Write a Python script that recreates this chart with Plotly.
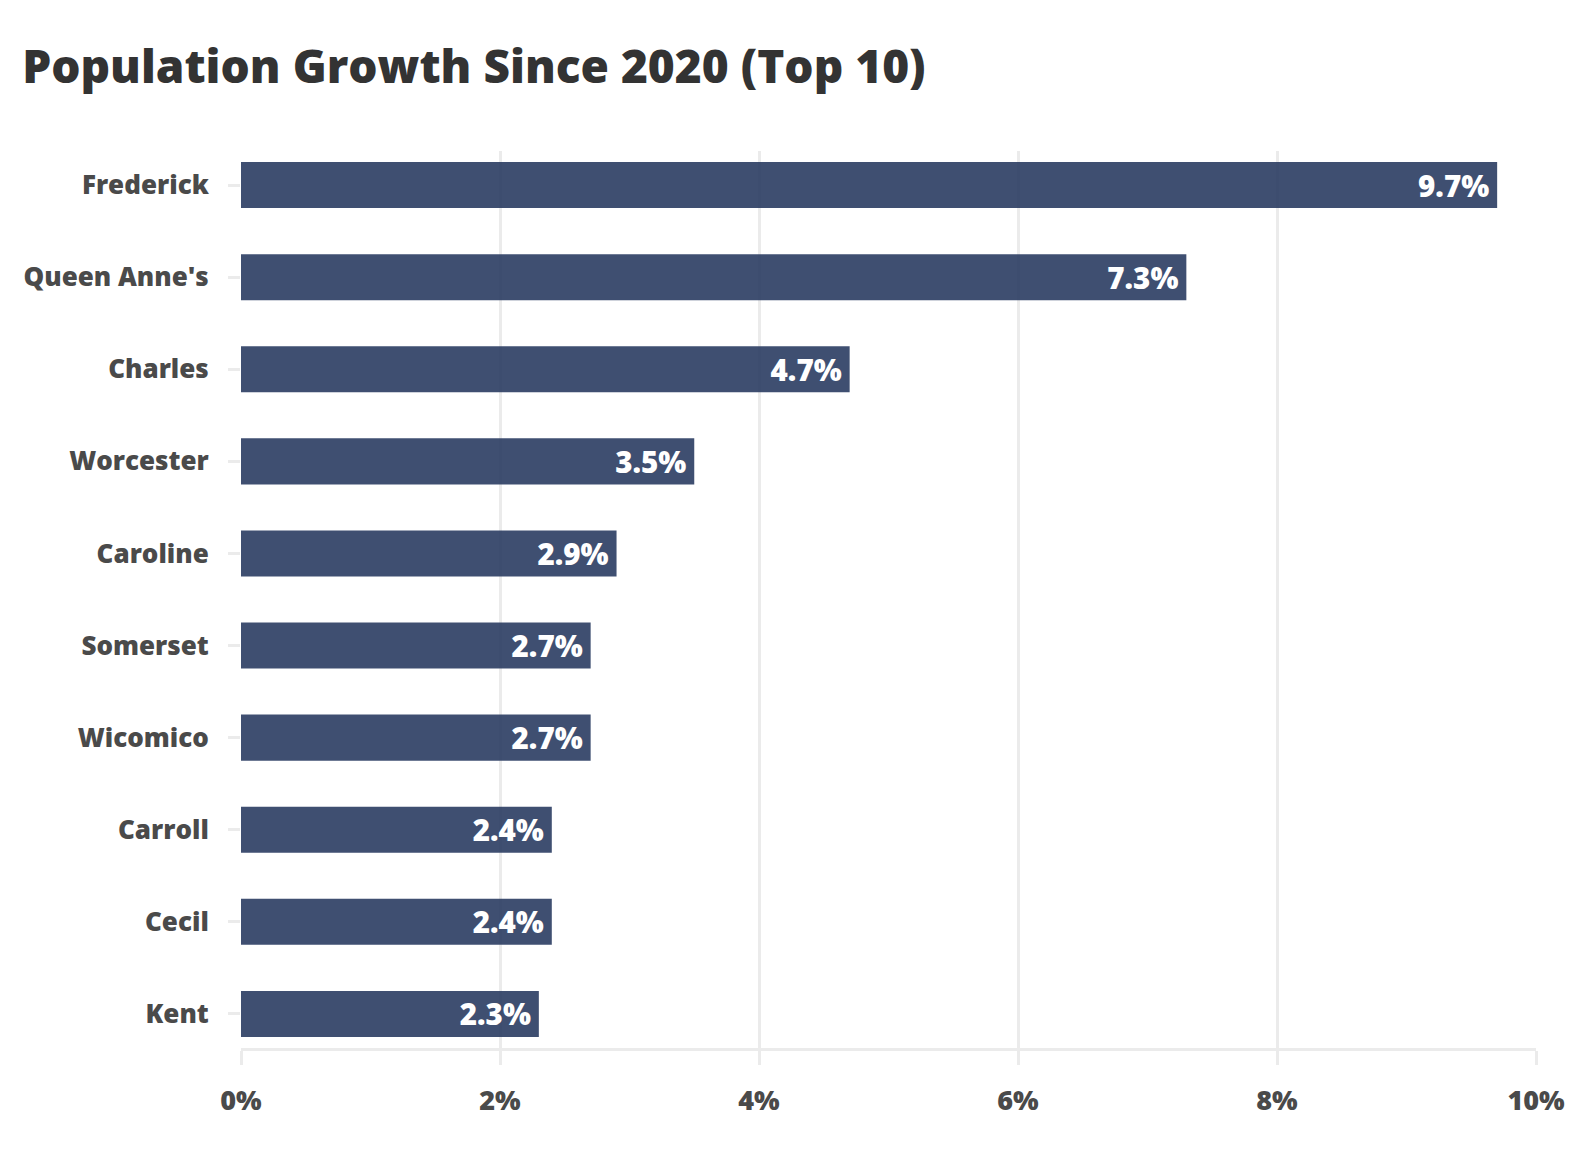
import plotly.graph_objects as go

counties = ["Frederick", "Queen Anne's", "Charles", "Worcester", "Caroline",
            "Somerset", "Wicomico", "Carroll", "Cecil", "Kent"]
growth = [9.7, 7.3, 4.7, 3.5, 2.9, 2.7, 2.7, 2.4, 2.4, 2.3]
x_ticks = [0, 2, 4, 6, 8, 10]
x_tick_labels = ["0%", "2%", "4%", "6%", "8%", "10%"]

FONT = "Open Sans"
W = 800

fig = go.Figure(go.Bar(
    x=growth,
    y=counties,
    orientation="h",
    width=0.5,
    marker=dict(color="rgba(42,60,98,0.9)", line=dict(width=0)),
    text=[f"{v:.1f}%\u2009" for v in growth],
    textposition="inside",
    insidetextanchor="end",
    textfont=dict(family=FONT, size=31, color="white", weight=W),
    cliponaxis=False,
))

fig.update_layout(
    width=1572, height=1134,
    paper_bgcolor="white", plot_bgcolor="white",
    margin=dict(l=233, r=44, t=143, b=94),
    title=dict(text="Population Growth Since 2020 (Top 10)",
               x=0.009, xanchor="left", y=0.948, yanchor="middle",
               font=dict(family=FONT, size=46, color="#333333", weight=W)),
    showlegend=False,
    bargap=0.5,
)

fig.update_xaxes(
    automargin=False,
    range=[0, 10], tickvals=x_ticks, ticktext=x_tick_labels,
    showgrid=True, gridcolor="#ebebeb", gridwidth=2.5,
    zeroline=False,
    showline=True, linecolor="#ebebeb", linewidth=2.5,
    ticks="outside", ticklen=14, tickwidth=2.5, tickcolor="#ebebeb",
    ticklabelstandoff=13,
    tickfont=dict(family=FONT, size=27, color="#4a4a4a", weight=W),
)

fig.update_yaxes(
    automargin=False,
    categoryorder="array", categoryarray=counties[::-1],
    range=[-0.37, 9.37],
    showgrid=False, zeroline=False, showline=False,
    ticks="outside", ticklen=12, tickwidth=2.5, tickcolor="#ebebeb",
    ticklabelstandoff=14,
    tickfont=dict(family=FONT, size=26, color="#4a4a4a", weight=W),
)

fig.write_html("out.html")
